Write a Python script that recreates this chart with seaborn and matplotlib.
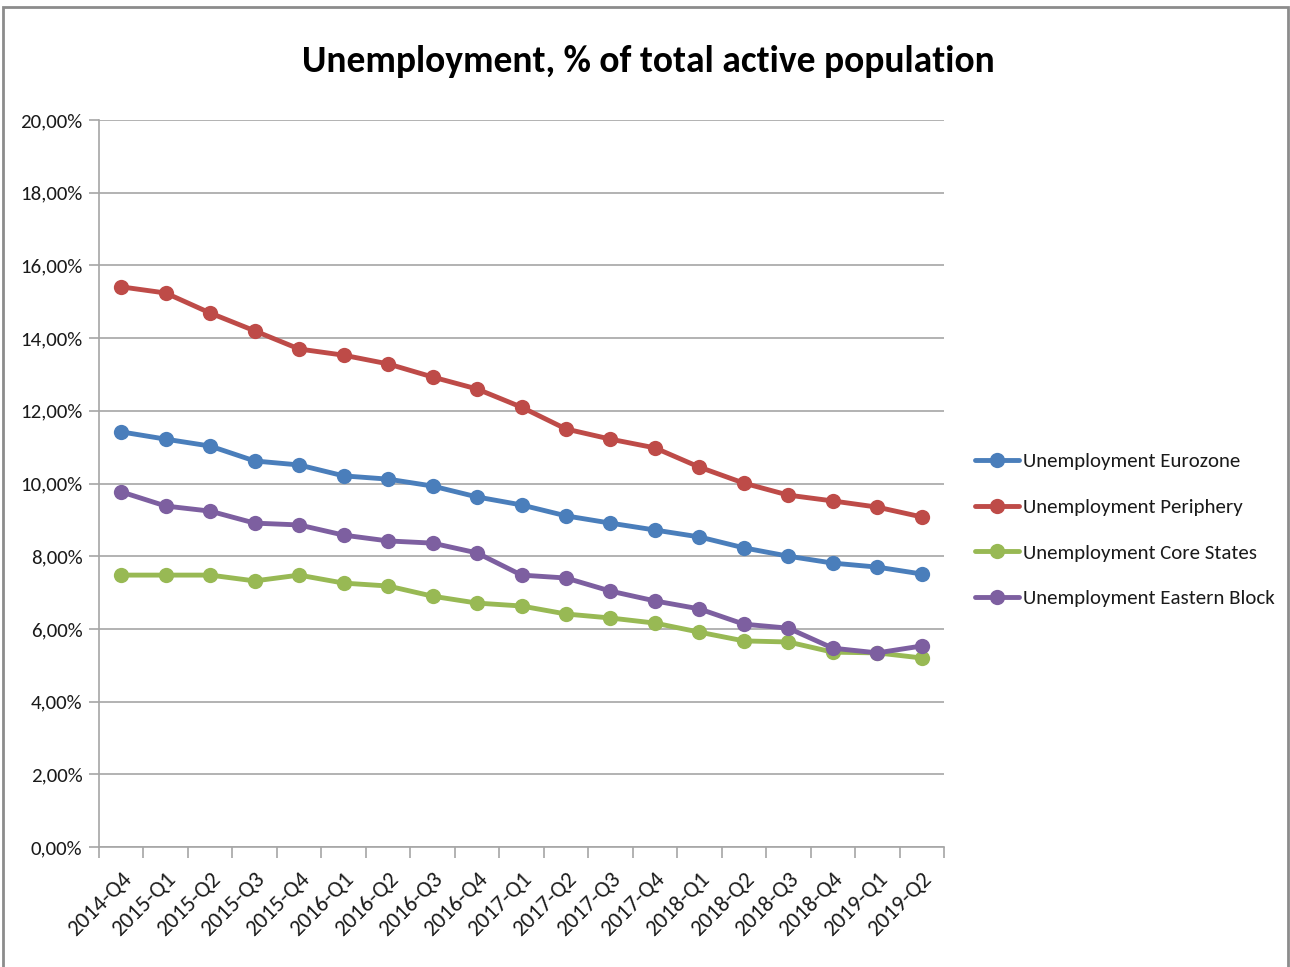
import numpy as np
import pandas as pd
import matplotlib
matplotlib.use("Agg")
import matplotlib.pyplot as plt
import seaborn as sns
from matplotlib.ticker import FuncFormatter, MultipleLocator
from matplotlib.patches import Rectangle

# кварталы
quarters = ["2014-Q4", "2015-Q1", "2015-Q2", "2015-Q3", "2015-Q4",
            "2016-Q1", "2016-Q2", "2016-Q3", "2016-Q4",
            "2017-Q1", "2017-Q2", "2017-Q3", "2017-Q4",
            "2018-Q1", "2018-Q2", "2018-Q3", "2018-Q4",
            "2019-Q1", "2019-Q2"]

# значения, %
eurozone = [11.42, 11.22, 11.03, 10.62, 10.51, 10.21, 10.12, 9.93, 9.63,
            9.41, 9.11, 8.91, 8.72, 8.53, 8.23, 8.00, 7.81, 7.70, 7.51]
periphery = [15.41, 15.24, 14.69, 14.20, 13.70, 13.53, 13.29, 12.93, 12.60,
             12.10, 11.50, 11.22, 10.98, 10.45, 10.01, 9.68, 9.52, 9.35, 9.08]
core_states = [7.48, 7.48, 7.48, 7.32, 7.48, 7.26, 7.18, 6.90, 6.71,
               6.63, 6.41, 6.30, 6.16, 5.91, 5.67, 5.64, 5.36, 5.34, 5.20]
eastern_block = [9.77, 9.38, 9.24, 8.91, 8.86, 8.58, 8.42, 8.36, 8.09,
                 7.48, 7.40, 7.04, 6.77, 6.55, 6.13, 6.02, 5.47, 5.34, 5.53]

series_names = ["Unemployment Eurozone", "Unemployment Periphery",
                "Unemployment Core States", "Unemployment Eastern Block"]
colors = ["#4A7EBB", "#BE4B48", "#98B954", "#7D5FA0"]

df = pd.DataFrame({
    "quarter": quarters * 4,
    "x": list(range(len(quarters))) * 4,
    "value": eurozone + periphery + core_states + eastern_block,
    "series": np.repeat(series_names, len(quarters)),
})

sns.set_style("white")
plt.rcParams["font.family"] = ["Carlito", "Archivo Narrow", "DejaVu Sans"]
plt.rcParams["text.color"] = "#1a1a1a"
plt.rcParams["xtick.color"] = "#1a1a1a"
plt.rcParams["ytick.color"] = "#1a1a1a"

fig = plt.figure(figsize=(12.9, 9.67), dpi=100)
ax = fig.add_axes([99 / 1290, 1 - 847 / 967, 845 / 1290, 727 / 967])

sns.lineplot(data=df, x="x", y="value", hue="series", palette=colors,
             marker="o", markersize=11, markeredgewidth=0, linewidth=3.5,
             ax=ax, legend=True)

ax.set_xlim(-0.5, len(quarters) - 0.5)
ax.set_ylim(0, 20)
ax.yaxis.set_major_locator(MultipleLocator(2))
ax.yaxis.set_major_formatter(FuncFormatter(lambda v, p: f"{v:.2f}".replace(".", ",") + "%"))
ax.grid(axis="y", color="#a6a6a6", linewidth=1.2)
ax.set_axisbelow(True)

ax.set_xticks(range(len(quarters)))
ax.set_xticklabels(quarters, rotation=45, ha="right", rotation_mode="anchor", fontsize=16.5)
ax.tick_params(axis="x", which="major", length=0, pad=16)
ax.set_xticks(np.arange(-0.5, len(quarters)), minor=True)
ax.tick_params(axis="x", which="minor", length=8, color="#a6a6a6", width=1.2, direction="out")
ax.tick_params(axis="y", length=7, color="#a6a6a6", width=1.2, direction="out", labelsize=15, pad=5)
ax.tick_params(bottom=True, left=True, which="both")

for side in ["top", "right"]:
    ax.spines[side].set_visible(False)
for side in ["left", "bottom"]:
    ax.spines[side].set_color("#a6a6a6")
    ax.spines[side].set_linewidth(1.2)

ax.set_xlabel("")
ax.set_ylabel("")

fig.text(648 / 1290, 1 - 61 / 967, "Unemployment, % of total active population",
         ha="center", va="center", fontsize=27, fontweight="bold", color="black")

leg = ax.legend(loc="center left", bbox_to_anchor=(868 / 845, (847 - 530) / 727),
                frameon=False, fontsize=15, handlelength=2.1, handletextpad=0.2,
                labelspacing=1.35, borderaxespad=0)

# рамка вокруг рисунка
fig.patches.append(Rectangle((3 / 1290, -0.01), 1285 / 1290, 1 - 7 / 967 + 0.01,
                             transform=fig.transFigure, fill=False,
                             edgecolor="#8c8c8c", linewidth=2))

fig.savefig("out.png", dpi=100)
